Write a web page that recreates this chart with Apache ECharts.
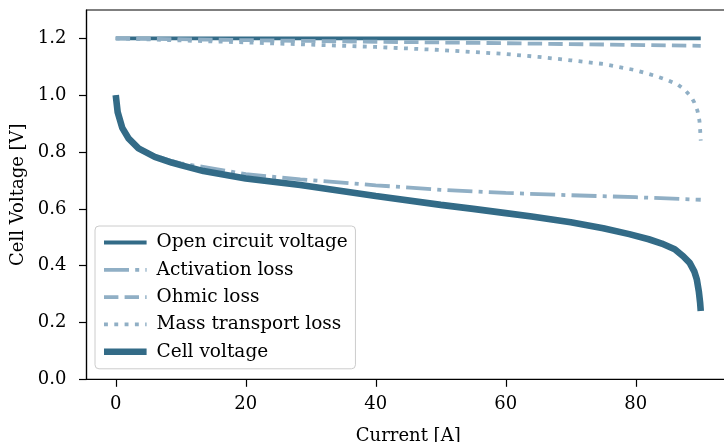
<!DOCTYPE html>
<html>
<head>
<meta charset="utf-8">
<script src="https://cdn.jsdelivr.net/npm/echarts@6/dist/echarts.min.js"></script>
<style>
html,body{margin:0;padding:0;background:#fff;}
#chart{width:724px;height:442px;}
</style>
</head>
<body>
<div id="chart"></div>
<script>
// ---- data ----
const seriesNames = ['Open circuit voltage', 'Activation loss', 'Ohmic loss', 'Mass transport loss', 'Cell voltage'];

const ocvX = [0, 90];
const ocvY = [1.2, 1.2];

const actX = [0, 0.3, 1, 2, 3.5, 6, 8.6, 10, 15, 20, 28.4, 40, 50, 60, 70, 80, 90];
const actY = [1.0, 0.94, 0.886, 0.849, 0.816, 0.787, 0.768, 0.760, 0.742, 0.722, 0.704, 0.683, 0.667, 0.656, 0.648, 0.641, 0.632];

const ohmX = [0, 30, 60, 90];
const ohmY = [1.2, 1.191, 1.183, 1.174];

const mtX = [0, 10, 20, 30, 40, 50, 60, 65, 70, 75, 80, 83, 85, 86.5, 87.5, 88.5, 89, 89.5, 89.8, 89.9, 90];
const mtY = [1.2, 1.193, 1.186, 1.178, 1.170, 1.159, 1.145, 1.135, 1.123, 1.110, 1.088, 1.068, 1.052, 1.037, 1.020, 0.995, 0.975, 0.945, 0.91, 0.88, 0.84];

const cellX = [0, 0.3, 1, 2, 3.5, 6, 8.6, 10, 13.5, 20, 28.4, 40, 50, 55, 60, 64, 70, 75, 79, 82, 84, 86, 87.3, 88.3, 89, 89.4, 89.7, 89.9, 90];
const cellY = [1.0, 0.94, 0.885, 0.847, 0.813, 0.783, 0.763, 0.754, 0.733, 0.707, 0.684, 0.645, 0.614, 0.600, 0.585, 0.573, 0.553, 0.532, 0.511, 0.493, 0.478, 0.458, 0.433, 0.41, 0.38, 0.351, 0.31, 0.27, 0.24];

const xTicks = [0, 20, 40, 60, 80];
const yTicks = [0.0, 0.2, 0.4, 0.6, 0.8, 1.0, 1.2];

// ---- styling ----
const dark = '#336b87';
const light = '#90afc5';
const FONT = 'DejaVu Serif';
const FS = 18;
const LFS = 18.5;

const zip = (xs, ys) => xs.map((x, i) => [x, ys[i]]);

const styles = [
  {color: dark, width: 3.8, type: 'solid'},
  {color: light, width: 3.8, type: [25, 6.2, 4, 6.2]},
  {color: light, width: 3.8, type: [14.4, 6.2]},
  {color: light, width: 3.8, type: [3.9, 6.4]},
  {color: dark, width: 6.6, type: 'solid'}
];
const datas = [zip(ocvX, ocvY), zip(actX, actY), zip(ohmX, ohmY), zip(mtX, mtY), zip(cellX, cellY)];

const series = seriesNames.map((n, i) => ({
  name: n,
  type: 'line',
  data: datas[i],
  showSymbol: false,
  symbol: 'none',
  smooth: false,
  lineStyle: {color: styles[i].color, width: styles[i].width, type: styles[i].type, cap: 'butt'},
  itemStyle: {color: styles[i].color},
  animation: false,
  silent: true,
  z: 2 + i
}));

const chart = echarts.init(document.getElementById('chart'), null, {renderer: 'canvas'});
chart.setOption({
  animation: false,
  backgroundColor: '#fff',
  textStyle: {fontFamily: FONT},
  grid: {left: 86.5, top: 10, width: 643.5, height: 369.3, show: true, borderColor: '#000', borderWidth: 1.2, backgroundColor: 'transparent', outerBoundsMode: 'none', containLabel: false},
  xAxis: {
    type: 'value', min: -4.5, max: 94.5,
    name: 'Current [A]', nameLocation: 'middle', nameGap: 48,
    nameTextStyle: {fontFamily: FONT, fontSize: FS, color: '#000'},
    axisLine: {show: true, onZero: false, lineStyle: {color: '#000', width: 1.2}},
    axisTick: {show: true, length: 7.5, lineStyle: {color: '#000', width: 1.2}, customValues: xTicks},
    axisLabel: {fontFamily: FONT, fontSize: FS, color: '#000', margin: 16, customValues: xTicks},
    splitLine: {show: false}
  },
  yAxis: {
    type: 'value', min: 0, max: 1.3,
    name: 'Cell Voltage [V]', nameLocation: 'middle', nameGap: 58, nameRotate: 90,
    nameTextStyle: {fontFamily: FONT, fontSize: FS, color: '#000'},
    axisLine: {show: true, onZero: false, lineStyle: {color: '#000', width: 1.2}},
    axisTick: {show: true, length: 7.5, lineStyle: {color: '#000', width: 1.2}, customValues: yTicks},
    axisLabel: {fontFamily: FONT, fontSize: FS, color: '#000', margin: 20, customValues: yTicks, formatter: v => v.toFixed(1)},
    splitLine: {show: false}
  },
  legend: {
    show: true,
    orient: 'vertical',
    left: 95, top: 226,
    padding: [7, 7.7, 7.6, 5.7],
    itemWidth: 42.6, itemHeight: 18, itemGap: 8.3,
    backgroundColor: 'rgba(255,255,255,0.8)',
    borderColor: '#cccccc', borderWidth: 1, borderRadius: 4,
    textStyle: {fontFamily: FONT, fontSize: LFS, color: '#000', padding: [0, 0, 0, 5], lineHeight: 18},
    data: seriesNames.map((n, i) => ({
      name: n,
      itemStyle: {color: 'rgba(0,0,0,0)', borderWidth: 0, opacity: 0},
      lineStyle: {color: styles[i].color, width: styles[i].width, type: styles[i].type, cap: 'butt', opacity: 1}
    })),
    selectedMode: false
  },
  series: series
});
</script>
</body>
</html>
